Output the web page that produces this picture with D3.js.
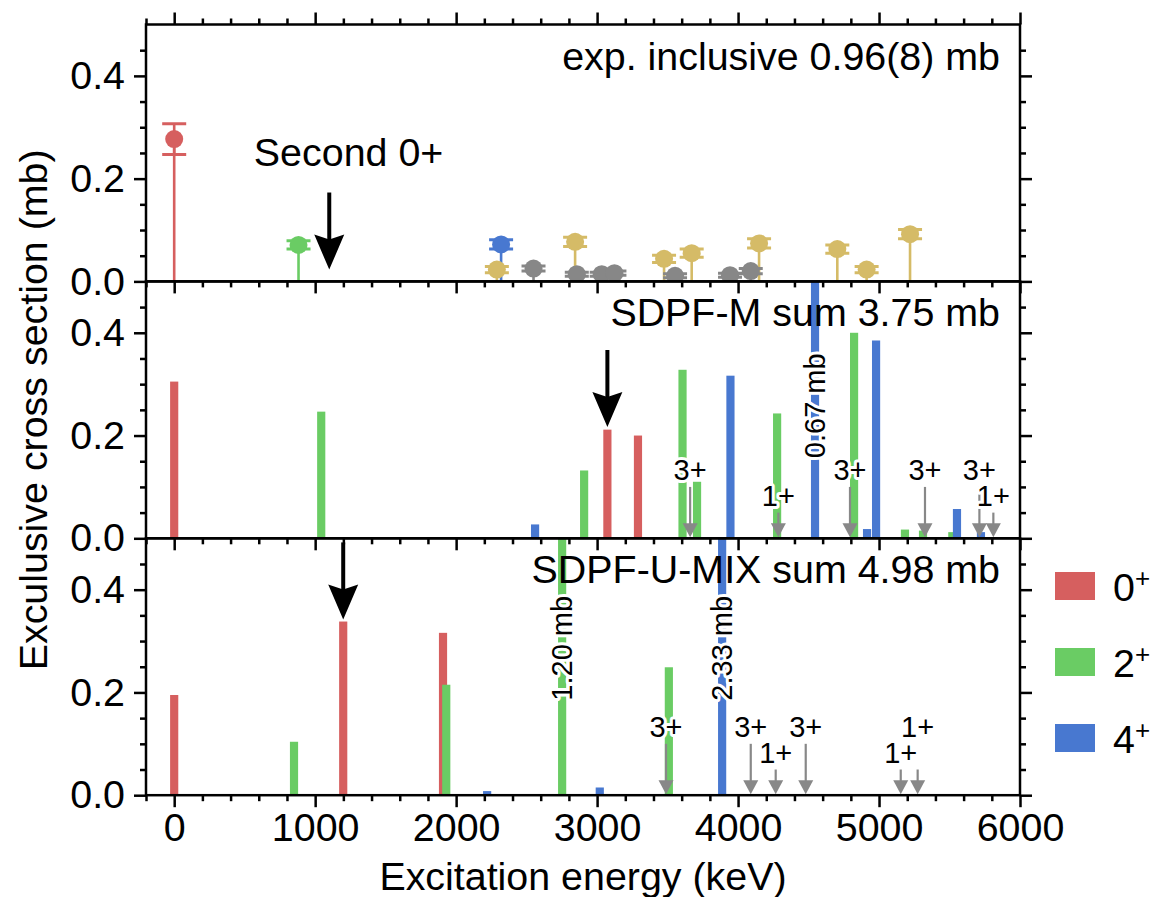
<!DOCTYPE html>
<meta charset="utf-8">
<style>
    body { margin: 0; background: #fff; }
    text { font-family: "Liberation Sans", Arial, Helvetica, sans-serif; }
</style>
<svg width="1155" height="897"></svg>
<script src="https://cdn.jsdelivr.net/npm/d3@7"></script>
<script>

    // ---- data ----
    // experiment: energy (keV), cross section (mb), error (mb), group
    var expEnergy = [0, 882, 2319, 2289, 2844, 3475, 3671, 4149, 4704, 4912, 5220, 2549, 2856, 3033, 3123, 3553, 3943, 4090];
    var expSigma  = [0.277, 0.071, 0.072, 0.023, 0.077, 0.044, 0.055, 0.074, 0.063, 0.023, 0.092, 0.025, 0.014, 0.014, 0.016, 0.011, 0.012, 0.020];
    var expError  = [0.030, 0.008, 0.009, 0.006, 0.009, 0.007, 0.008, 0.009, 0.008, 0.006, 0.009, 0.005, 0.004, 0.004, 0.004, 0.004, 0.004, 0.005];
    var expGroup  = ["0+", "2+", "4+", "other", "other", "other", "other", "other", "other", "other", "other",
                     "unknown", "unknown", "unknown", "unknown", "unknown", "unknown", "unknown"];
    var expSecondZero = 1100;

    // SDPF-M
    var smEnergy = [0, 3073, 3290, 1043, 2908, 3606, 3709, 4277, 4823, 5184, 5312, 5520, 2560, 3946, 4546, 4915, 4979, 5553, 5723];
    var smSigma  = [0.305, 0.2115, 0.200, 0.2465, 0.132, 0.328, 0.110, 0.243, 0.400, 0.017, 0.015, 0.012, 0.027, 0.3165, 0.67, 0.018, 0.385, 0.057, 0.012];
    var smSpin   = ["0+", "0+", "0+", "2+", "2+", "2+", "2+", "2+", "2+", "2+", "2+", "2+", "4+", "4+", "4+", "4+", "4+", "4+", "4+"];
    var smOtherEnergy = [3660, 4286, 4794, 5326, 5712, 5811];
    var smOtherSpin   = ["3+", "1+", "3+", "3+", "3+", "1+"];
    var smSecondZero = 3073;

    // SDPF-U-MIX
    var umEnergy = [0, 1199, 1907, 850, 1930, 2752, 3509, 2220, 3019, 3887];
    var umSigma  = [0.195, 0.338, 0.316, 0.104, 0.215, 1.20, 0.249, 0.008, 0.015, 2.33];
    var umSpin   = ["0+", "0+", "0+", "2+", "2+", "2+", "2+", "4+", "4+", "4+"];
    var umOtherEnergy = [3489, 4090, 4267, 4480, 5154, 5274];
    var umOtherSpin   = ["3+", "3+", "1+", "3+", "1+", "1+"];
    var umOtherRaised = [false, false, false, false, false, true];
    var umSecondZero = 1199;

    var panelTitles = ["exp. inclusive 0.96(8) mb", "SDPF-M sum 3.75 mb", "SDPF-U-MIX sum 4.98 mb"];
    var legendSpins = ["0", "2", "4"];
    var xTicks = [0, 1000, 2000, 3000, 4000, 5000, 6000];
    var yTicks = [0, 0.2, 0.4];

    // ---- layout ----
    var svg = d3.select("svg");
    var left = 146, right = 1020, top0 = 24.5, panelH = 256.9;
    var fs = 39.4, fsSmall = 29;
    var colors = {"0+": "#d65f5f", "2+": "#6acc64", "4+": "#4878d0", "other": "#d5bb67", "unknown": "#878787"};
    var order = ["0+", "2+", "4+", "other", "unknown"];
    var arrowGray = "#888888";
    var barW = 58;

    var x = d3.scaleLinear().domain([-200, 6000]).range([left, right]);

    var panels = [0, 1, 2].map(function (i) {
        var t = top0 + i * panelH;
        var y = d3.scaleLinear().domain([0, 0.5]).range([t + panelH, t]);
        svg.append("clipPath").attr("id", "clip" + i)
            .append("rect").attr("x", left).attr("y", t).attr("width", right - left).attr("height", panelH);
        var g = svg.append("g");
        var plot = g.append("g").attr("clip-path", "url(#clip" + i + ")");
        return {top: t, y: y, g: g, plot: plot};
    });

    function byOrder(groups) {
        return d3.range(groups.length).sort(function (a, b) {
            return order.indexOf(groups[a]) - order.indexOf(groups[b]);
        });
    }

    function halo(sel) {
        sel.attr("stroke", "#fff").attr("stroke-width", 6).attr("stroke-linejoin", "round").attr("paint-order", "stroke");
    }

    // ---- top panel: experiment ----
    var p0 = panels[0];
    var pts = p0.plot.selectAll("g.pt").data(byOrder(expGroup)).enter().append("g")
        .attr("stroke", function (d) { return colors[expGroup[d]]; })
        .attr("fill", function (d) { return colors[expGroup[d]]; })
        .attr("stroke-width", 2.6);
    pts.append("line")
        .attr("x1", function (d) { return x(expEnergy[d]); })
        .attr("x2", function (d) { return x(expEnergy[d]); })
        .attr("y1", p0.y(0))
        .attr("y2", function (d) { return p0.y(expSigma[d]); });
    pts.append("line")
        .attr("x1", function (d) { return x(expEnergy[d]); })
        .attr("x2", function (d) { return x(expEnergy[d]); })
        .attr("y1", function (d) { return p0.y(expSigma[d] - expError[d]); })
        .attr("y2", function (d) { return p0.y(expSigma[d] + expError[d]); });
    [-1, 1].forEach(function (s) {
        pts.append("line")
            .attr("stroke-width", 3)
            .attr("x1", function (d) { return x(expEnergy[d]) - 12; })
            .attr("x2", function (d) { return x(expEnergy[d]) + 12; })
            .attr("y1", function (d) { return p0.y(expSigma[d] + s * expError[d]); })
            .attr("y2", function (d) { return p0.y(expSigma[d] + s * expError[d]); });
    });
    pts.append("circle")
        .attr("stroke", "none")
        .attr("cx", function (d) { return x(expEnergy[d]); })
        .attr("cy", function (d) { return p0.y(expSigma[d]); })
        .attr("r", 9);

    // ---- model panels ----
    function drawBars(p, energy, sigma, spin) {
        p.plot.selectAll("rect.bar").data(byOrder(spin)).enter().append("rect")
            .attr("class", "bar")
            .attr("x", function (d) { return x(energy[d] - barW / 2); })
            .attr("width", x(barW) - x(0))
            .attr("y", function (d) { return p.y(sigma[d]); })
            .attr("height", function (d) { return p.y(0) - p.y(sigma[d]); })
            .attr("fill", function (d) { return colors[spin[d]]; });
    }

    function drawBigLabels(p, energy, sigma, centerY) {
        var big = d3.range(energy.length).filter(function (d) { return sigma[d] > 0.5; });
        p.g.selectAll("text.big").data(big).enter().append("text")
            .attr("class", "big")
            .attr("transform", function (d) { return "translate(" + x(energy[d]) + "," + p.y(centerY) + ") rotate(-90)"; })
            .attr("text-anchor", "middle")
            .attr("dominant-baseline", "central")
            .attr("font-size", fsSmall)
            .text(function (d) { return sigma[d].toFixed(2) + " mb"; })
            .call(halo);
    }

    function drawOther(p, energy, spin, raised) {
        var idx = d3.range(energy.length);
        var tail = function (d) { return spin[d] === "3+" ? 0.1 : 0.05; };
        var ag = p.g.append("g");
        idx.forEach(function (d) {
            var xx = x(energy[d]), tipY = p.y(0.002), tY = p.y(tail(d));
            ag.append("line").attr("x1", xx).attr("x2", xx).attr("y1", tY).attr("y2", tipY - 10)
                .attr("stroke", arrowGray).attr("stroke-width", 2.2);
            ag.append("path")
                .attr("d", "M" + xx + "," + tipY + "L" + (xx - 7.5) + "," + (tipY - 14) + "L" + (xx + 7.5) + "," + (tipY - 14) + "Z")
                .attr("fill", arrowGray);
        });
        p.g.selectAll("text.other").data(idx).enter().append("text")
            .attr("class", "other")
            .attr("x", function (d) { return x(energy[d]); })
            .attr("y", function (d) {
                var lift = (spin[d] === "3+" || (raised && raised[d])) ? 0.133 : 0.083;
                return p.y(lift);
            })
            .attr("text-anchor", "middle")
            .attr("dominant-baseline", "central")
            .attr("font-size", fsSmall)
            .text(function (d) { return spin[d]; })
            .call(halo);
    }

    function blackArrow(p, energy, tip) {
        var xx = x(energy), tipY = p.y(tip), tailY = p.y(tip + 0.15);
        p.g.append("line").attr("x1", xx).attr("x2", xx).attr("y1", tailY).attr("y2", tipY - 28)
            .attr("stroke", "#000").attr("stroke-width", 4);
        p.g.append("path")
            .attr("d", "M" + xx + "," + tipY + "L" + (xx - 15) + "," + (tipY - 35) + "L" + xx + "," + (tipY - 30) + "L" + (xx + 15) + "," + (tipY - 35) + "Z")
            .attr("fill", "#000");
    }

    function barValue(energy, sigma, e) {
        return sigma[energy.indexOf(e)];
    }

    drawBars(panels[1], smEnergy, smSigma, smSpin);
    drawBars(panels[2], umEnergy, umSigma, umSpin);
    drawOther(panels[1], smOtherEnergy, smOtherSpin, null);
    drawOther(panels[2], umOtherEnergy, umOtherSpin, umOtherRaised);
    drawBigLabels(panels[1], smEnergy, smSigma, 0.258);
    drawBigLabels(panels[2], umEnergy, umSigma, 0.286);

    blackArrow(panels[0], expSecondZero, 0.023);
    blackArrow(panels[1], smSecondZero, barValue(smEnergy, smSigma, smSecondZero) + 0.005);
    blackArrow(panels[2], umSecondZero, barValue(umEnergy, umSigma, umSecondZero) + 0.004);

    p0.g.append("text")
        .attr("x", x(1237)).attr("y", p0.y(0.224))
        .attr("text-anchor", "middle").attr("font-size", fs)
        .text("Second 0+");

    // ---- axes and frames ----
    var xMinor = d3.range(-200, 6001, 200).filter(function (v) { return v % 1000 !== 0; });
    var yMinor = [0.05, 0.1, 0.15, 0.25, 0.3, 0.35, 0.45];

    function styleAxis(g) {
        g.select(".domain").remove();
        g.attr("font-family", null).attr("font-size", fs);
        g.selectAll(".tick line").attr("stroke", "#000").attr("stroke-width", 2.5);
        g.selectAll(".tick text").attr("fill", "#000");
    }

    panels.forEach(function (p, i) {
        var ax = svg.append("g");
        var bottom = p.top + panelH;

        ax.append("g").attr("transform", "translate(" + left + ",0)")
            .call(d3.axisLeft(p.y).tickValues(yTicks).tickSize(12).tickPadding(9).tickFormat(d3.format(".1f")))
            .call(styleAxis);
        ax.append("g").attr("transform", "translate(" + left + ",0)")
            .call(d3.axisLeft(p.y).tickValues(yMinor).tickSize(6).tickFormat(""))
            .call(styleAxis);
        ax.append("g").attr("transform", "translate(" + right + ",0)")
            .call(d3.axisRight(p.y).tickValues(yTicks).tickSize(12).tickFormat(""))
            .call(styleAxis);
        ax.append("g").attr("transform", "translate(" + right + ",0)")
            .call(d3.axisRight(p.y).tickValues(yMinor).tickSize(6).tickFormat(""))
            .call(styleAxis);

        ax.append("g").attr("transform", "translate(0," + bottom + ")")
            .call(d3.axisBottom(x).tickValues(xTicks).tickSize(12).tickPadding(6)
                .tickFormat(i === 2 ? d3.format("d") : ""))
            .call(styleAxis);
        ax.append("g").attr("transform", "translate(0," + bottom + ")")
            .call(d3.axisBottom(x).tickValues(xMinor).tickSize(6).tickFormat(""))
            .call(styleAxis);

        if (i === 0) {
            ax.append("g").attr("transform", "translate(0," + p.top + ")")
                .call(d3.axisTop(x).tickValues(xTicks).tickSize(12).tickFormat(""))
                .call(styleAxis);
            ax.append("g").attr("transform", "translate(0," + p.top + ")")
                .call(d3.axisTop(x).tickValues(xMinor).tickSize(6).tickFormat(""))
                .call(styleAxis);
        }

        ax.append("rect")
            .attr("x", left).attr("y", p.top)
            .attr("width", right - left).attr("height", panelH)
            .attr("fill", "none").attr("stroke", "#000").attr("stroke-width", 2.5);

        ax.append("text")
            .attr("x", 1000).attr("y", p.top + 45)
            .attr("text-anchor", "end").attr("font-size", fs)
            .text(panelTitles[i]);
    });

    // axis titles
    svg.append("text")
        .attr("x", (left + right) / 2).attr("y", 890)
        .attr("text-anchor", "middle").attr("font-size", fs)
        .text("Excitation energy (keV)");
    svg.append("text")
        .attr("transform", "translate(33," + (top0 + 1.5 * panelH) + ") rotate(-90)")
        .attr("text-anchor", "middle").attr("dominant-baseline", "central").attr("font-size", fs)
        .text("Exculusive cross section (mb)");

    // legend
    var leg = svg.append("g").selectAll("g").data(legendSpins).enter().append("g")
        .attr("transform", function (d, i) { return "translate(1055," + (586 + i * 76) + ")"; });
    leg.append("rect").attr("x", 0).attr("y", -14).attr("width", 40).attr("height", 28)
        .attr("fill", function (d) { return colors[d + "+"]; });
    var lt = leg.append("text").attr("x", 58).attr("y", 15).attr("font-size", fs);
    lt.append("tspan").text(function (d) { return d; });
    lt.append("tspan").attr("font-size", 26).attr("dy", -14).text("+");

</script>
